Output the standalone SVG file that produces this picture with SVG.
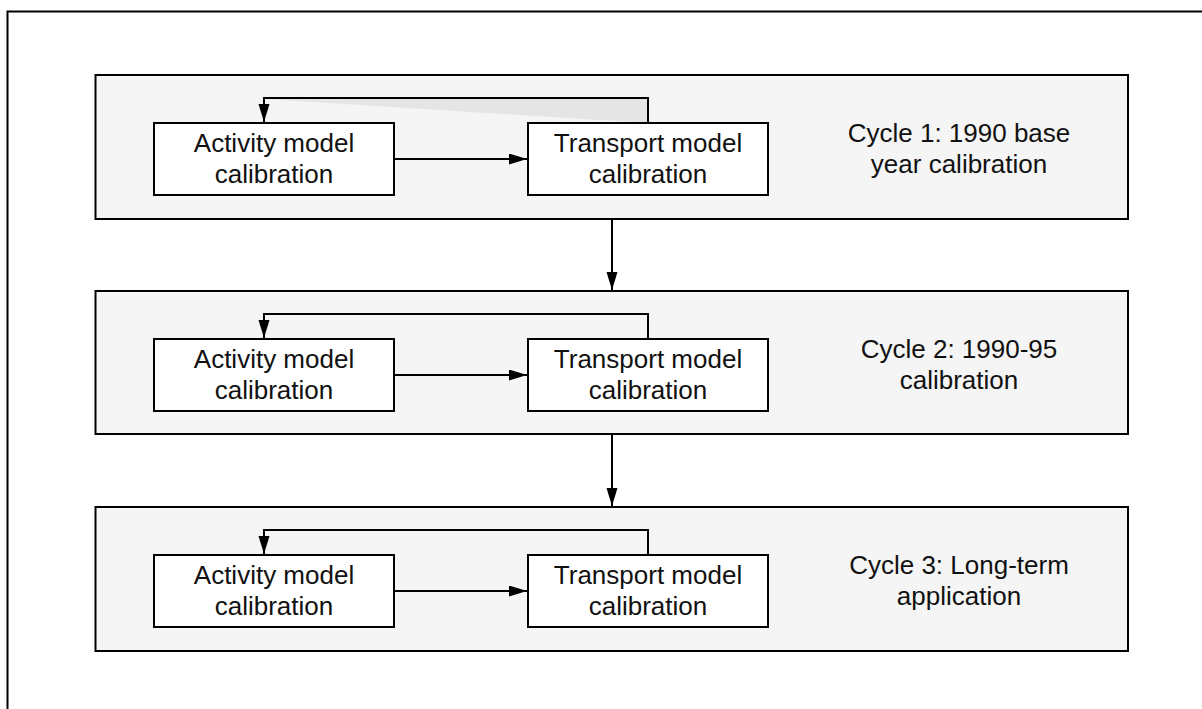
<svg xmlns="http://www.w3.org/2000/svg" width="1202" height="709" viewBox="0 0 1202 709">
<style>
.frame{fill:#ffffff;stroke:#000;stroke-width:2}
.cycle{fill:#f5f5f5;stroke:#000;stroke-width:2}
.node{fill:#ffffff;stroke:#000;stroke-width:2}
.txt{font-family:"Liberation Sans",Arial,sans-serif;font-size:26px;fill:#111;text-anchor:middle}
.conn{fill:none;stroke:#000;stroke-width:2}
</style>
<defs>
<marker id="ah" markerUnits="userSpaceOnUse" markerWidth="19" markerHeight="12" refX="18" refY="5.5" orient="auto">
<path d="M0,0 L18,5.5 L0,11 z" fill="#000"/>
</marker>
</defs>
<rect class="frame" x="7.5" y="11.5" width="1300" height="800"/>
<g id="cycle1">
<rect class="cycle" x="95.5" y="75" width="1032.5" height="144"/>
<text class="txt" x="959" y="141.7">Cycle 1: 1990 base</text>
<text class="txt" x="959" y="172.7">year calibration</text>
</g>
<g id="cycle2">
<rect class="cycle" x="95.5" y="291" width="1032.5" height="143"/>
<text class="txt" x="959" y="357.7">Cycle 2: 1990-95</text>
<text class="txt" x="959" y="388.7">calibration</text>
</g>
<g id="cycle3">
<rect class="cycle" x="95.5" y="507" width="1032.5" height="144"/>
<text class="txt" x="959" y="573.7">Cycle 3: Long-term</text>
<text class="txt" x="959" y="604.7">application</text>
</g>
<polygon points="264,99 648,99 648,123" fill="#e5e5e5"/>
<g id="activity1">
<rect class="node" x="154" y="123" width="240" height="72"/>
<text class="txt" x="274" y="152.3">Activity model</text>
<text class="txt" x="274" y="182.7">calibration</text>
</g>
<g id="transport1">
<rect class="node" x="528" y="123" width="240" height="72"/>
<text class="txt" x="648" y="152.3">Transport model</text>
<text class="txt" x="648" y="182.7">calibration</text>
</g>
<g id="activity2">
<rect class="node" x="154" y="339" width="240" height="72"/>
<text class="txt" x="274" y="368.3">Activity model</text>
<text class="txt" x="274" y="398.7">calibration</text>
</g>
<g id="transport2">
<rect class="node" x="528" y="339" width="240" height="72"/>
<text class="txt" x="648" y="368.3">Transport model</text>
<text class="txt" x="648" y="398.7">calibration</text>
</g>
<g id="activity3">
<rect class="node" x="154" y="555" width="240" height="72"/>
<text class="txt" x="274" y="584.3">Activity model</text>
<text class="txt" x="274" y="614.7">calibration</text>
</g>
<g id="transport3">
<rect class="node" x="528" y="555" width="240" height="72"/>
<text class="txt" x="648" y="584.3">Transport model</text>
<text class="txt" x="648" y="614.7">calibration</text>
</g>
<g id="connectors">
<path class="conn" d="M394,159 L527,159" marker-end="url(#ah)"/>
<path class="conn" d="M648,123 L648,98 L264,98 L264,122" marker-end="url(#ah)"/>
<path class="conn" d="M394,375 L527,375" marker-end="url(#ah)"/>
<path class="conn" d="M648,339 L648,314 L264,314 L264,338" marker-end="url(#ah)"/>
<path class="conn" d="M394,591 L527,591" marker-end="url(#ah)"/>
<path class="conn" d="M648,555 L648,530 L264,530 L264,554" marker-end="url(#ah)"/>
<path class="conn" d="M612,219 L612,290" marker-end="url(#ah)"/>
<path class="conn" d="M612,434 L612,506" marker-end="url(#ah)"/>
</g>
</svg>
